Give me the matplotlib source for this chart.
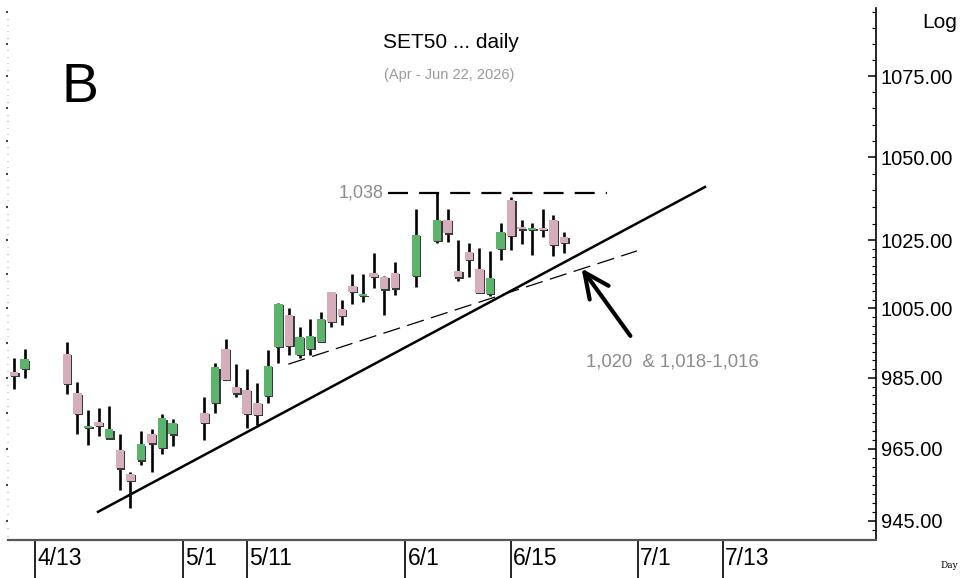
import numpy as np
import matplotlib
matplotlib.use("Agg")
import matplotlib.pyplot as plt
import matplotlib.ticker as mticker
from matplotlib import transforms
from matplotlib.patches import Rectangle

plt.rcParams['font.family'] = ['Liberation Sans', 'DejaVu Sans']

# daily candles (holidays left as empty slots)
dates = ["2026-04-09", "2026-04-10", "2026-04-16", "2026-04-17", "2026-04-20",
         "2026-04-21", "2026-04-22", "2026-04-23", "2026-04-24", "2026-04-27",
         "2026-04-28", "2026-04-29", "2026-04-30", "2026-05-05", "2026-05-06",
         "2026-05-07", "2026-05-08", "2026-05-11", "2026-05-12", "2026-05-13",
         "2026-05-14", "2026-05-15", "2026-05-18", "2026-05-19", "2026-05-20",
         "2026-05-21", "2026-05-22", "2026-05-25", "2026-05-26", "2026-05-27",
         "2026-05-28", "2026-05-29", "2026-06-02", "2026-06-04", "2026-06-05",
         "2026-06-08", "2026-06-09", "2026-06-10", "2026-06-11", "2026-06-12",
         "2026-06-15", "2026-06-16", "2026-06-17", "2026-06-18", "2026-06-19",
         "2026-06-22"]
opens = [986.8, 987.5, 991.8, 980.6, 970.9, 972.6, 967.9, 964.6, 957.9, 961.7,
         969.1, 965.3, 969.0, 975.1, 977.8, 993.3, 982.5, 981.5, 977.8, 979.8,
         993.8, 1003.1, 991.5, 993.4, 995.4, 1009.7, 1004.8, 1011.7, 1008.6, 1015.3,
         1014.3, 1015.5, 1014.5, 1024.8, 1031.1, 1016.0, 1021.7, 1016.6, 1009.2, 1022.5,
         1037.1, 1028.9, 1028.1, 1028.8, 1031.1, 1026.1]
highs = [990.6, 993.3, 995.2, 983.7, 975.9, 976.4, 977.0, 969.0, 958.6, 970.0,
         970.4, 974.7, 973.3, 979.6, 989.3, 996.2, 988.9, 987.4, 983.5, 993.0,
         1006.6, 1005.1, 999.5, 1001.9, 1004.1, 1009.7, 1007.5, 1015.0, 1015.0, 1021.4,
         1014.6, 1018.7, 1034.4, 1039.3, 1034.4, 1025.1, 1024.3, 1022.9, 1022.0, 1030.1,
         1038.1, 1031.1, 1030.1, 1034.4, 1032.6, 1027.6]
lows = [981.8, 984.9, 980.4, 969.1, 966.0, 968.6, 967.9, 953.5, 948.5, 960.5,
        958.6, 963.5, 965.8, 967.4, 974.9, 984.4, 979.5, 970.7, 971.6, 977.9,
        989.3, 991.5, 990.6, 991.5, 995.4, 999.5, 1000.2, 1006.3, 1007.0, 1010.9,
        1003.1, 1008.9, 1011.2, 1024.1, 1024.6, 1013.1, 1014.3, 1009.5, 1008.6, 1019.2,
        1022.2, 1023.9, 1020.7, 1026.1, 1020.5, 1021.2]
closes = [985.6, 990.3, 983.2, 974.7, 971.4, 971.4, 970.4, 959.5, 956.0, 966.2,
          966.5, 973.5, 972.3, 972.3, 988.0, 984.4, 980.6, 974.7, 974.5, 988.4,
          1006.3, 994.1, 996.8, 997.1, 1001.9, 1001.2, 1002.8, 1009.9, 1009.1, 1014.3,
          1010.6, 1010.9, 1026.6, 1031.1, 1027.1, 1014.1, 1019.2, 1009.5, 1014.0, 1027.6,
          1026.3, 1028.3, 1028.8, 1028.1, 1023.6, 1024.3]

tick_dates = ["2026-04-13", "2026-05-01", "2026-05-11", "2026-06-01",
              "2026-06-15", "2026-07-01", "2026-07-13"]
tick_labels = ["4/13", "5/1", "5/11", "6/1", "6/15", "7/1", "7/13"]
price_ticks = [945, 965, 985, 1005, 1025, 1050, 1075]

# drawn lines, x in trading-day slots from Apr 9
trend_x = [7.94, 65.33]
trend_y = [947.5, 1041.0]
support_x = [25.93, 58.9]
support_y = [988.9, 1021.9]
resist_x = [35.36, 56.06]
arrow_tail = (58.43, 996.4)
arrow_head = (53.51, 1017.4)

base = "2026-04-09"
xs = np.busday_count(base, dates)
tick_x = np.busday_count(base, tick_dates)

green = "#5cb46c"
pink = "#d6adba"

fig = plt.figure(figsize=(9.6, 5.78), dpi=100)
ax = fig.add_axes([8 / 960, 38 / 578, 868 / 960, 532 / 578])
ax.set_yscale('log')
ax.set_xlim(-0.57, 81.5)
ax.set_ylim(939.8, 1096.4)

shadow = transforms.offset_copy(ax.transData, fig=fig, x=1.3, y=-1.3, units='dots')
w = 0.8
for x, o, h, l, c in zip(xs, opens, highs, lows, closes):
    ax.vlines(x, l, h, color='black', lw=1.9, zorder=2)
    bot = min(o, c)
    ht = max(abs(c - o), 0.45)
    ax.add_patch(Rectangle((x - w / 2, bot), w, ht, facecolor='#3a3a3a',
                           edgecolor='none', transform=shadow, zorder=3))
    ax.add_patch(Rectangle((x - w / 2, bot), w, ht, facecolor=green if c >= o else pink,
                           edgecolor='none', zorder=4))

ax.plot(trend_x, trend_y, color='black', lw=1.8, zorder=5)
ax.plot(support_x, support_y, color='black', lw=0.9, dashes=(14, 6), zorder=5)
top = max(highs)
ax.plot(resist_x, [top, top], color='black', lw=1.6, dashes=(9, 5), zorder=5)
ax.annotate('', xy=arrow_head, xytext=arrow_tail,
            arrowprops=dict(arrowstyle='->,head_length=1.5,head_width=0.7',
                            lw=3, color='black', mutation_scale=12))

ax.text(resist_x[0] - 0.4, top, "1,038", ha='right', va='center',
        fontsize=13, color='#8c8c8c')
ax.text(54.1, 989.5, "1,020  & 1,018-1,016", ha='left', va='center',
        fontsize=13.3, color='#8c8c8c')

# right price axis
ax.yaxis.tick_right()
ax.yaxis.set_major_locator(mticker.FixedLocator(price_ticks))
ax.yaxis.set_major_formatter(mticker.FormatStrFormatter('%.2f'))
minor = [v for v in np.arange(942.5, 1025, 2.5) if v not in price_ticks]
minor += [v for v in np.arange(1030, 1100, 5) if v not in price_ticks]
ax.yaxis.set_minor_locator(mticker.FixedLocator(minor))
ax.yaxis.set_minor_formatter(mticker.NullFormatter())
ax.tick_params(axis='y', which='major', direction='in', length=6, width=1.1,
               labelsize=14.5, pad=3.5)
ax.tick_params(axis='y', which='minor', direction='in', length=3, width=0.8)

# faint left ticks
sec = ax.secondary_yaxis('left')
sec.yaxis.set_major_locator(mticker.FixedLocator(np.arange(945, 1100, 10)))
sec.yaxis.set_minor_locator(mticker.FixedLocator(np.arange(941, 1100, 2)))
sec.yaxis.set_major_formatter(mticker.NullFormatter())
sec.yaxis.set_minor_formatter(mticker.NullFormatter())
sec.spines['left'].set_visible(False)
sec.tick_params(which='major', length=1.5, width=1.5, color='#444444')
sec.tick_params(which='minor', length=1, width=0.8, color='#aaaaaa')

# date axis
ax.set_xticks(tick_x)
ax.set_xticklabels([])
ax.tick_params(axis='x', direction='out', length=28, width=1.2, color='black')
tb = transforms.blended_transform_factory(ax.transData, ax.transAxes)
for x, lab in zip(tick_x, tick_labels):
    ax.text(x + 0.2, -0.034, lab, transform=tb, ha='left', va='center', fontsize=16.5)

for s in ['top', 'left']:
    ax.spines[s].set_visible(False)
ax.spines['right'].set_linewidth(1.2)
ax.spines['bottom'].set_linewidth(1.6)
ax.spines['bottom'].set_color('#555555')

fig.text(451 / 960, 1 - 42 / 578, "SET50 ... daily", ha='center', va='center', fontsize=15)
fig.text(449 / 960, 1 - 75 / 578, "(Apr - Jun 22, 2026)", ha='center', va='center',
         fontsize=10.5, color='#9a9a9a')
fig.text(80 / 960, 1 - 88 / 578, "B", ha='center', va='center', fontsize=40)
fig.text(922 / 960, 1 - 22 / 578, "Log", ha='left', va='center', fontsize=15)
fig.text(940 / 960, 1 - 566 / 578, "Day", ha='left', va='center', fontsize=6.5,
         family='DejaVu Serif')

fig.savefig("out.png", dpi=100)
